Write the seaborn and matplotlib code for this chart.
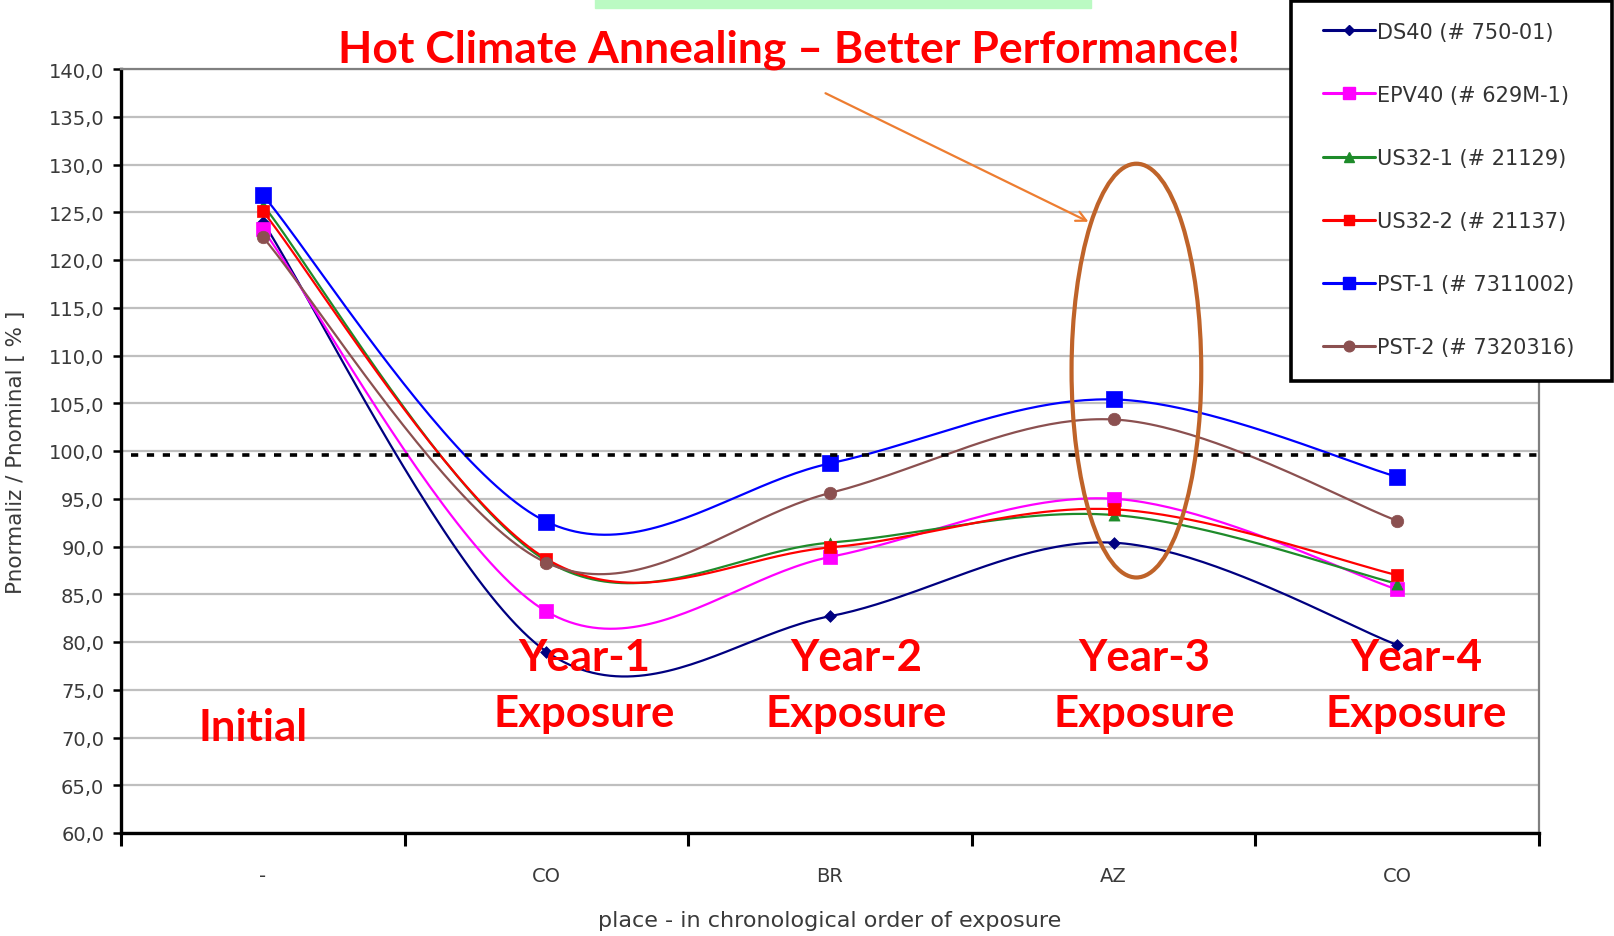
import numpy as np
import pandas as pd
import matplotlib
matplotlib.use("Agg")
import matplotlib.pyplot as plt
from matplotlib.lines import Line2D
from matplotlib.patches import Ellipse, Rectangle
import seaborn as sns

# ---------------- data ----------------
categories = ["-", "CO", "BR", "AZ", "CO"]
yticks = [60, 65, 70, 75, 80, 85, 90, 95, 100, 105, 110, 115, 120, 125, 130, 135, 140]
series_names = ["DS40 (# 750-01)", "EPV40 (# 629M-1)", "US32-1 (# 21129)",
                "US32-2 (# 21137)", "PST-1 (# 7311002)", "PST-2 (# 7320316)"]
ds40 = [124.0, 79.0, 82.7, 90.4, 79.7]
epv40 = [123.2, 83.2, 88.9, 95.0, 85.5]
us32_1 = [125.8, 88.5, 90.4, 93.3, 86.1]
us32_2 = [125.1, 88.7, 89.9, 93.9, 87.0]
pst_1 = [126.8, 92.6, 98.7, 105.4, 97.3]
pst_2 = [122.4, 88.3, 95.6, 103.3, 92.7]
reference_level = 99.6
stage_labels = ["Initial", "Year-1\nExposure", "Year-2\nExposure", "Year-3\nExposure", "Year-4\nExposure"]
title_text = "Hot Climate Annealing \u2013 Better Performance!"

values = [ds40, epv40, us32_1, us32_2, pst_1, pst_2]
colors = ["#000080", "#FF00FF", "#1E8B2A", "#FF0000", "#0000FF", "#8B5050"]
markers = ["D", "s", "^", "s", "s", "o"]
msizes = [6, 10, 8, 8, 11, 9]

# ---------------- helpers ----------------
def smooth(xv, yv, n=50):
    P = np.column_stack([xv, yv]).astype(float)
    out = []
    m = len(P)
    for i in range(m - 1):
        p0 = P[max(i - 1, 0)]; p1 = P[i]; p2 = P[i + 1]; p3 = P[min(i + 2, m - 1)]
        c1 = p1 + (p2 - p0) / 6.0
        c2 = p2 - (p3 - p1) / 6.0
        t = np.linspace(0, 1, n)[:, None]
        seg = (1 - t) ** 3 * p1 + 3 * (1 - t) ** 2 * t * c1 + 3 * (1 - t) * t ** 2 * c2 + t ** 3 * p2
        out.append(seg if i == 0 else seg[1:])
    return np.vstack(out)

# ---------------- figure ----------------
sns.set_theme(style="white")
plt.rcParams["font.family"] = ["DejaVu Sans"]
W, H = 1614, 937
fig = plt.figure(figsize=(W / 100, H / 100), dpi=100)
ax = fig.add_axes([121 / W, 1 - 834 / H, (1539 - 121) / W, (834 - 70) / H])

xpos = np.arange(len(categories))
for name, vals, c, mk, ms in zip(series_names, values, colors, markers, msizes):
    curve = smooth(xpos, vals)
    df = pd.DataFrame({"x": curve[:, 0], "y": curve[:, 1]})
    sns.lineplot(data=df, x="x", y="y", sort=False, estimator=None, color=c,
                 linewidth=1.6, ax=ax, zorder=3)
    pts = pd.DataFrame({"x": xpos, "y": vals})
    sns.scatterplot(data=pts, x="x", y="y", marker=mk, s=ms ** 2, color=c,
                    edgecolor=c, linewidth=0.5, ax=ax, zorder=4)

ax.axhline(reference_level, xmin=0.007, color="black", linewidth=2.6,
           linestyle=(0, (2.0, 2.4)), dash_capstyle="butt", zorder=5)

ax.set_xlim(-0.5, len(categories) - 0.5)
ax.set_ylim(60, 140)
ax.set_yticks(yticks)
ax.set_yticklabels([f"{v:.1f}".replace(".", ",") for v in yticks])
ax.set_xticks(xpos)
ax.set_xticklabels(categories)
ax.set_xticks(np.arange(-0.5, len(categories), 1.0), minor=True)
ax.yaxis.grid(True, color="#BFBFBF", linewidth=1.6, zorder=0)
ax.xaxis.grid(False)
ax.set_axisbelow(True)
ax.set_xlabel("")
ax.set_ylabel("")

tick_col = "#3a3a3a"
ax.tick_params(axis="y", which="major", direction="out", length=6, width=1.8,
               color="black", left=True, labelsize=14, labelcolor=tick_col, pad=6)
ax.tick_params(axis="x", which="major", length=0, labelsize=14, labelcolor=tick_col, pad=24)
ax.tick_params(axis="x", which="minor", direction="out", length=9, width=2.2,
               color="black", bottom=True)

for s in ["left", "bottom"]:
    ax.spines[s].set_color("black")
    ax.spines[s].set_linewidth(2.4)
for s in ["top", "right"]:
    ax.spines[s].set_color("#808080")
    ax.spines[s].set_linewidth(1.6)

fig.text(830 / W, 1 - 921 / H, "place - in chronological order of exposure",
         ha="center", va="center", fontsize=16, color=tick_col)
fig.text(16.5 / W, 1 - 452 / H, "Pnormaliz / Pnominal [ % ]", rotation=90,
         ha="center", va="center", fontsize=15.5, color=tick_col)

# red stage annotations
red_font = dict(color="#FF0000", fontweight="bold", family=["Lato", "DejaVu Sans"], fontsize=31.5)
label_x = [253, 584, 856, 1144, 1416]
for lbl, xp in zip(stage_labels, label_x):
    lines = lbl.split("\n")
    if len(lines) == 1:
        fig.text(xp / W, 1 - 741 / H, lines[0], ha="center", va="baseline", **red_font)
    else:
        fig.text(xp / W, 1 - 671 / H, lines[0], ha="center", va="baseline", **red_font)
        fig.text(xp / W, 1 - 727 / H, lines[1], ha="center", va="baseline", **red_font)

fig.text(789.5 / W, 1 - 62 / H, title_text, ha="center", va="baseline",
         **{**red_font, "fontsize": 32})

# green bar at top
fig.patches.append(Rectangle((595 / W, 1 - 9 / H), 496 / W, 9 / H,
                             transform=fig.transFigure, color="#BBFAC3", zorder=0))

# orange arrow
ax.annotate("", xy=(1091 / W, 1 - 224 / H), xytext=(823 / W, 1 - 93 / H),
            xycoords="figure fraction", textcoords="figure fraction",
            arrowprops=dict(arrowstyle="->", color="#ED7D31", lw=1.6,
                            mutation_scale=18), annotation_clip=False)

# ellipse highlight
ell = Ellipse(((1136.4 - 121) / (1539 - 121), (834 - 371.6) / (834 - 70)),
              129.7 / (1539 - 121), 413.8 / (834 - 70), transform=ax.transAxes,
              fill=False, edgecolor="#BF6329", linewidth=3.0, zorder=6)
ax.add_patch(ell)

# legend box (frame drawn separately for exact placement)
frame = Rectangle((1290.5 / W, 1 - 381.5 / H), (1611.5 - 1290.5) / W, (381.5 - 2) / H,
                  transform=fig.transFigure, facecolor="white", edgecolor="black",
                  linewidth=2.6, zorder=4.5)
fig.patches.append(frame)

fs_leg = 15
px = fs_leg * 100 / 72
handles = [Line2D([0], [0], color=c, marker=mk, markersize=ms * 0.85, linewidth=2.2,
                  markeredgecolor=c) for c, mk, ms in zip(colors, markers, msizes)]
leg = fig.legend(handles, series_names, loc="upper left",
                 bbox_to_anchor=(1323 / W, 1 - (33 - px / 2) / H),
                 borderaxespad=0, borderpad=0, fontsize=fs_leg,
                 labelspacing=(64 - px) / px, handlelength=52 / px, handletextpad=0.1,
                 frameon=False, labelcolor="#333333")
leg.set_zorder(5)

fig.savefig("out.png", dpi=100)
